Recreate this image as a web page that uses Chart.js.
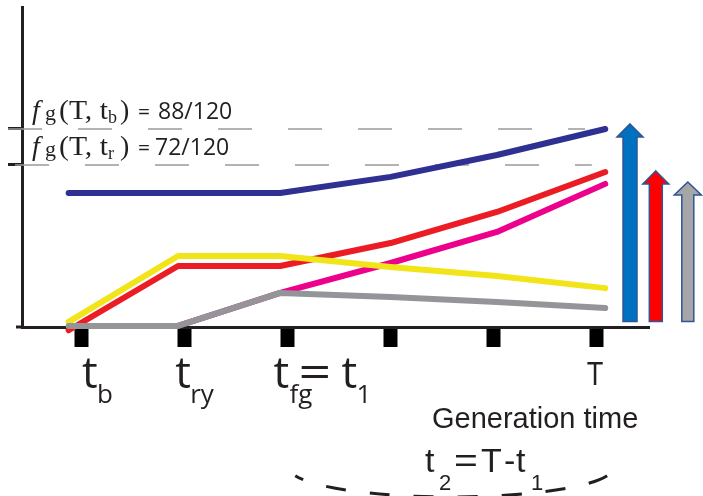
<!DOCTYPE html>
<html>
<head>
<meta charset="utf-8">
<script src="https://cdn.jsdelivr.net/npm/chart.js@4/dist/chart.umd.min.js"></script>
<style>
  html, body { margin: 0; padding: 0; background: #ffffff; }
  canvas { display: block; }
</style>
</head>
<body>
<canvas id="chart" width="703" height="496"></canvas>
<script>
// Generation-time knots shared by every fitness curve (axis tick units)
const generationTimes = [-0.12, 0.94, 1.93, 3.0, 4.03, 5.08];

// Relative fitness of each lineage along generation time
const fitnessBlue    = [0.496, 0.496, 0.496, 0.556, 0.637, 88 / 120];
const fitnessRed     = [-0.012, 0.226, 0.226, 0.311, 0.426, 0.574];
const fitnessMagenta = [null, 0.004, 0.126, 0.237, 0.352, 0.530];
const fitnessYellow  = [0.019, 0.263, 0.263, 0.222, 0.189, 0.144];
const fitnessGray    = [0.004, 0.004, 0.126, 0.111, 0.093, 0.070];

// Axis ticks
const axisTickTimes = [0, 1, 2, 3, 4, 5];
const fgLevels = [88 / 120, 72 / 120];
const fgSubscripts = ['b', 'r'];
const fgFractions = ['88/120', '72/120'];

// Dashed guide extents (generation time) for each f_g level
const guideStart = [-0.707, -0.64];
const guideEnd = [4.884, 4.95];

// Final-fitness arrows on the right
const arrowTimes = [5.32, 5.57, 5.88];
const arrowTops = [0.752, 0.578, 0.537];
const arrowBottom = 0.02;

const INK = '#231f20';

function pts(values) {
  return generationTimes.map((t, i) => ({ x: t, y: values[i] }));
}

function curve(values, color, order) {
  return {
    data: pts(values),
    borderColor: color,
    borderWidth: 6,
    borderCapStyle: 'round',
    borderJoinStyle: 'round',
    pointRadius: 0,
    tension: 0,
    fill: false,
    clip: false,
    order: order
  };
}

function guide(i) {
  return {
    data: [{ x: guideStart[i], y: fgLevels[i] }, { x: guideEnd[i], y: fgLevels[i] }],
    borderColor: '#9a9a9a',
    borderWidth: 1.5,
    borderDash: [34, 36],
    pointRadius: 0,
    fill: false,
    clip: false,
    order: 10
  };
}

// Draw a run of text pieces; each piece has its own font, x offset, baseline shift
// and optional horizontal stretch
function drawPieces(ctx, x0, base, pieces) {
  pieces.forEach(p => {
    ctx.font = p.font;
    const sx = p.sx || 1;
    ctx.save();
    ctx.translate(x0 + p.dx, base + (p.dy || 0));
    ctx.scale(sx, 1);
    ctx.fillText(p.text, 0, 0);
    ctx.restore();
  });
}

const OPEN = '"Open Sans", sans-serif';
const T_MAIN = '44px ' + OPEN;
const T_SUB = '26px ' + OPEN;
const SERIF = '"Liberation Serif", "Times New Roman", serif';
const ARIAL = '"Liberation Sans", Arial, sans-serif';

const annotations = {
  id: 'annotations',
  afterDatasetsDraw(chart) {
    const ctx = chart.ctx;
    const xs = chart.scales.x;
    const ys = chart.scales.y;
    ctx.save();
    ctx.fillStyle = INK;
    ctx.textAlign = 'left';
    ctx.textBaseline = 'alphabetic';

    // short stub of the time axis left of the vertical axis
    ctx.strokeStyle = INK;
    ctx.lineWidth = 3;
    ctx.beginPath();
    ctx.moveTo(16, ys.getPixelForValue(0));
    ctx.lineTo(xs.left, ys.getPixelForValue(0));
    ctx.stroke();

    // f_g level labels
    fgLevels.forEach((lvl, i) => {
      const base = ys.getPixelForValue(lvl) - 10;
      drawPieces(ctx, 32, base, [
        { text: 'f', font: 'italic 28px ' + SERIF, dx: 0 },
        { text: 'g', font: '22px ' + SERIF, dx: 13, dy: 1 },
        { text: '(T, t', font: '28px ' + SERIF, dx: 27, sx: 1.06 },
        { text: fgSubscripts[i], font: '18px ' + SERIF, dx: 76, dy: 4 },
        { text: ')', font: '28px ' + SERIF, dx: 88 },
        { text: '=', font: '21px ' + OPEN, dx: 106 },
        { text: fgFractions[i], font: '23px ' + OPEN, dx: i === 0 ? 126 : 123 }
      ]);
    });

    // time-axis labels
    const base = 388;
    const p0 = xs.getPixelForValue(axisTickTimes[0]);
    drawPieces(ctx, p0 + 1, base, [
      { text: 't', font: T_MAIN, dx: 0 },
      { text: 'b', font: T_SUB, dx: 15, dy: 15 }
    ]);
    const p1 = xs.getPixelForValue(axisTickTimes[1]);
    drawPieces(ctx, p1 - 9, base, [
      { text: 't', font: T_MAIN, dx: 0 },
      { text: 'ry', font: T_SUB, dx: 15, dy: 15 }
    ]);
    const p2 = xs.getPixelForValue(axisTickTimes[2]);
    drawPieces(ctx, p2 - 14, base, [
      { text: 't', font: T_MAIN, dx: 0 },
      { text: 'fg', font: T_SUB, dx: 16, dy: 15 },
      { text: '=', font: T_MAIN, dx: 25, sx: 1.3 },
      { text: 't', font: T_MAIN, dx: 68 },
      { text: '1', font: T_SUB, dx: 83, dy: 15 }
    ]);
    const p5 = xs.getPixelForValue(axisTickTimes[5]);
    ctx.font = '34px ' + ARIAL;
    ctx.textAlign = 'center';
    ctx.save();
    ctx.translate(p5 - 2, 385);
    ctx.scale(0.8, 1);
    ctx.fillText('T', 0, 0);
    ctx.restore();

    ctx.textAlign = 'left';
    ctx.font = '29px ' + ARIAL;
    ctx.fillText('Generation time', 432, 428);

    // t2 = T - t1 label
    drawPieces(ctx, 425, 472, [
      { text: 't', font: '34px ' + ARIAL, dx: 0 },
      { text: '2', font: '22px ' + ARIAL, dx: 14, dy: 18 },
      { text: '=', font: '34px ' + ARIAL, dx: 29, sx: 1.2 },
      { text: 'T', font: '34px ' + ARIAL, dx: 56 },
      { text: '-', font: '34px ' + ARIAL, dx: 79 },
      { text: 't', font: '34px ' + ARIAL, dx: 91 },
      { text: '1', font: '22px ' + ARIAL, dx: 106, dy: 18 }
    ]);

    // dashed brace spanning t1 .. T
    const xa = xs.getPixelForValue(axisTickTimes[2]);
    const xb = xs.getPixelForValue(axisTickTimes[5]);
    const cx = (xa + xb) / 2 + 9;
    const rx = (xb - xa) / 2 + 7;
    ctx.strokeStyle = INK;
    ctx.lineWidth = 3;
    ctx.setLineDash([20, 24]);
    ctx.beginPath();
    ctx.ellipse(cx, 468, rx, 29, 0, 0.27, Math.PI - 0.27);
    ctx.stroke();
    ctx.setLineDash([]);

    // final-fitness arrows
    const fills = ['#0070c0', '#ff0000', '#a6a6a6'];
    const shafts = [14, 13, 12];
    const heads = [26, 26, 27];
    arrowTimes.forEach((t, i) => {
      const ax = xs.getPixelForValue(t);
      const top = ys.getPixelForValue(arrowTops[i]);
      const bot = ys.getPixelForValue(arrowBottom);
      const hh = 13, sw = shafts[i] / 2, hw = heads[i] / 2;
      ctx.beginPath();
      ctx.moveTo(ax, top);
      ctx.lineTo(ax + hw, top + hh);
      ctx.lineTo(ax + sw, top + hh);
      ctx.lineTo(ax + sw, bot);
      ctx.lineTo(ax - sw, bot);
      ctx.lineTo(ax - sw, top + hh);
      ctx.lineTo(ax - hw, top + hh);
      ctx.closePath();
      ctx.fillStyle = fills[i];
      ctx.fill();
      ctx.strokeStyle = '#2f5597';
      ctx.lineWidth = 1.5;
      ctx.stroke();
    });
    ctx.restore();
  }
};

new Chart(document.getElementById('chart'), {
  type: 'line',
  data: {
    datasets: [
      curve(fitnessBlue, '#2e3092', 1),
      curve(fitnessGray, '#939598', 2),
      curve(fitnessYellow, '#f1e51a', 3),
      curve(fitnessMagenta, '#ec008c', 4),
      curve(fitnessRed, '#ec1c24', 5),
      guide(0),
      guide(1)
    ]
  },
  options: {
    responsive: false,
    animation: false,
    devicePixelRatio: 1,
    layout: { padding: { top: 7, right: 54, left: 0, bottom: 0 } },
    plugins: { legend: { display: false }, tooltip: { enabled: false } },
    scales: {
      x: {
        type: 'linear',
        min: -0.572,
        max: 5.504,
        afterBuildTicks: s => { s.ticks = axisTickTimes.map(v => ({ value: v })); },
        afterFit: s => { s.height = 169; },
        ticks: { display: false },
        grid: {
          drawOnChartArea: false,
          drawTicks: true,
          tickLength: 20,
          tickWidth: 14,
          tickColor: '#000000'
        },
        border: { display: true, color: INK, width: 3 }
      },
      y: {
        type: 'linear',
        min: 0,
        max: 1.185,
        afterBuildTicks: s => { s.ticks = fgLevels.map(v => ({ value: v })); },
        afterFit: s => { s.width = 22; },
        ticks: { display: false },
        grid: {
          drawOnChartArea: false,
          drawTicks: true,
          tickLength: 14,
          tickWidth: 3,
          tickColor: INK
        },
        border: { display: true, color: INK, width: 3 }
      }
    }
  },
  plugins: [annotations]
});
</script>
</body>
</html>
